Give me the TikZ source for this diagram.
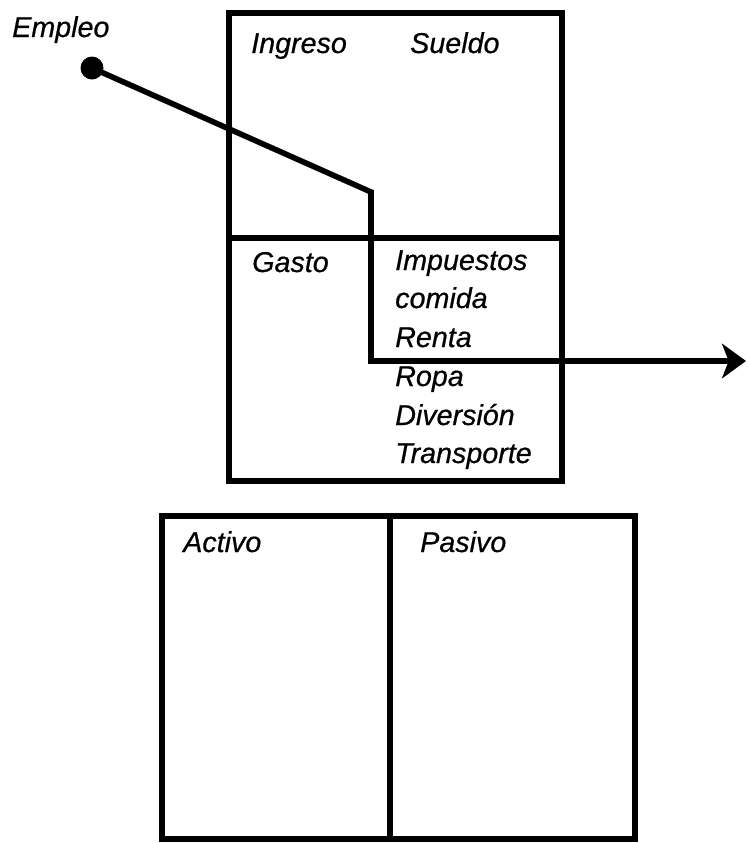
\documentclass[tikz,border=0pt]{standalone}
\usepackage{fontspec}
\setmainfont{Liberation Sans}
\newfontfamily\lblfont[FakeBold=0.6]{Liberation Sans}
\usetikzlibrary{arrows.meta}
\begin{document}
\begin{tikzpicture}[x=0.75pt,y=-0.75pt,
  boxline/.style={line width=3.8pt,line join=miter},
  flow/.style={line width=4.2pt,line join=miter},
  lbl/.style={inner sep=0pt,anchor=base west,font=\lblfont\fontsize{21.5}{26}\selectfont\itshape}]
\useasboundingbox (0,0) rectangle (747,843);
% top box
\coordinate (tl) at (229,13);
\coordinate (br) at (562,481);
\coordinate (dl) at (229,238);
\coordinate (dr) at (562,238);
\draw[boxline] (tl) rectangle (br);
\draw[boxline] (dl) -- (dr);
% bottom box
\coordinate (btl) at (162,516);
\coordinate (bbr) at (635,839);
\coordinate (bmt) at (390,516);
\coordinate (bmb) at (390,839);
\draw[boxline] (btl) rectangle (bbr);
\draw[boxline] (bmt) -- (bmb);
% flow line
\coordinate (dot) at (92,68);
\coordinate (k1) at (371,192);
\coordinate (k2) at (371,361);
\coordinate (tip) at (746,361);
\fill (dot) circle (11.5);
\draw[flow,-{Stealth[length=18,width=26,inset=5]}] (dot) -- (k1) -- (k2) -- (tip);
% labels
\node[lbl] (empleo) at (12,37) {Empleo};
\node[lbl] (ingreso) at (251,53) {Ingreso};
\node[lbl] (sueldo) at (410,53) {Sueldo};
\node[lbl] (gasto) at (252,272) {Gasto};
\node[lbl] (l1) at (395,270) {Impuestos};
\node[lbl] (l2) at (395,308) {comida};
\node[lbl] (l3) at (395,347) {Renta};
\node[lbl] (l4) at (395,386) {Ropa};
\node[lbl] (l5) at (395,425) {Diversión};
\node[lbl] (l6) at (395,463) {Transporte};
\node[lbl] (activo) at (183,552) {Activo};
\node[lbl] (pasivo) at (420,552) {Pasivo};
\end{tikzpicture}
\end{document}
